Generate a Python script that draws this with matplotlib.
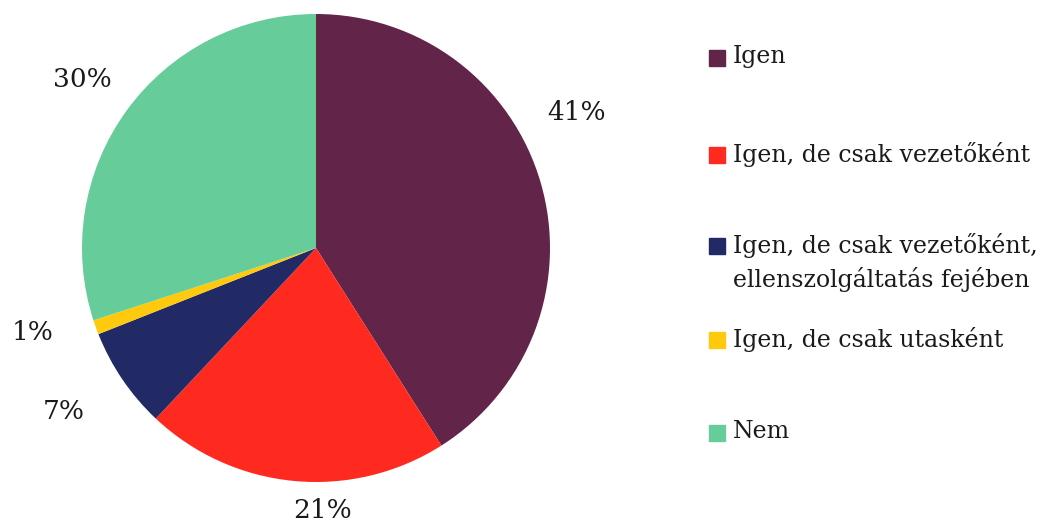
import matplotlib.pyplot as plt
from matplotlib.patches import Rectangle

labels = ["Igen", "Igen, de csak vezetőként",
          "Igen, de csak vezetőként,\nellenszolgáltatás fejében",
          "Igen, de csak utasként", "Nem"]
values = [41, 21, 7, 1, 30]
colors = ["#622448", "#FF2A1F", "#222A66", "#FFC90E", "#66CC99"]

# label positions (in pie radius units), Excel "best fit" style
label_pos = [(1.115, 0.58), (0.026, -1.12), (-1.077, -0.70), (-1.209, -0.363), (-1.0, 0.718)]
# legend rows: y pixel of first text line
legend_y = [58, 155, 246, 340, 433]

W, H = 1045, 522
fig = plt.figure(figsize=(W / 100, H / 100), dpi=100)
plt.rcParams['font.family'] = ['DejaVu Serif']

ax = fig.add_axes([82 / W, (H - 482) / H, 468 / W, 468 / H])
ax.pie(values, colors=colors, startangle=90, counterclock=False,
       wedgeprops=dict(linewidth=0))
ax.set_xlim(-1, 1)
ax.set_ylim(-1, 1)
ax.set_aspect('equal')
ax.set_axis_off()

for v, (x, y) in zip(values, label_pos):
    ax.text(x, y, f"{v}%", ha='center', va='center', fontsize=19, color='#1a1a1a')

for lab, c, y in zip(labels, colors, legend_y):
    fig.patches.append(Rectangle((709 / W, 1 - (y + 8) / H), 16 / W, 16 / H,
                                 transform=fig.transFigure, color=c))
    fig.text(733 / W, 1 - (y - 13) / H, lab, ha='left', va='top', fontsize=17,
             color='#1a1a1a', linespacing=1.45)

fig.savefig("out.png", dpi=100)
